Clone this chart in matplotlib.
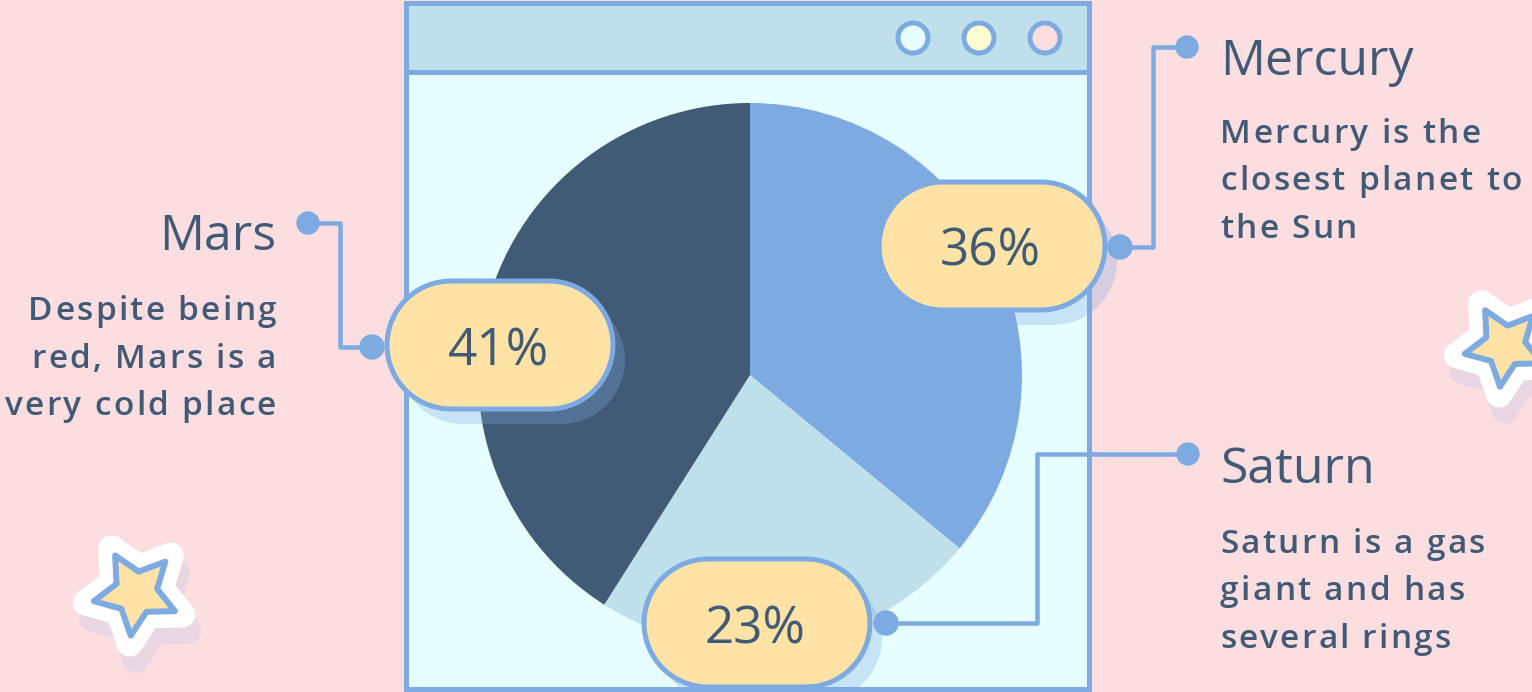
import numpy as np
import matplotlib
matplotlib.use("Agg")
import matplotlib.pyplot as plt
from matplotlib.patches import Rectangle, Circle, Polygon
from matplotlib.font_manager import FontProperties

W, H = 1532, 692

# data
planets = ["Mercury", "Saturn", "Mars"]
shares = [36, 23, 41]
descriptions = {
    "Mercury": "Mercury is the\nclosest planet to\nthe Sun",
    "Saturn": "Saturn is a gas\ngiant and has\nseveral rings",
    "Mars": "Despite being\nred, Mars is a\nvery cold place",
}

BG = "#FDDEE0"
BLUE = "#7DAAE0"
NAVY = "#415A75"
PALE = "#BFE0EA"
CONTENT = "#E6FEFF"
YELLOW = "#FFE3A6"
slice_colors = [BLUE, PALE, NAVY]
FONT = "Open Sans"


def Y(p):
    # pixel row (from top) -> data y
    return H - p


def px(n):
    # pixels -> points
    return n * 72 / 100


fig = plt.figure(figsize=(W / 100, H / 100), dpi=100)
fig.patch.set_facecolor(BG)
ax = fig.add_axes([0, 0, 1, 1])
renderer = fig.canvas.get_renderer()


def text_w(s, prop):
    return renderer.get_text_width_height_descent(s, prop, ismath=False)[0]


def spaced_text(x, y, s, prop, ha="left", tracking=2.3, **kw):
    # text with extra letter spacing (pixels), drawn char by char
    ref = text_w("l", prop)
    offsets = [text_w(s[:i] + "l", prop) - ref for i in range(len(s))]
    total = text_w(s, prop) + tracking * (len(s) - 1)
    x0 = x - total if ha == "right" else x
    for i, ch in enumerate(s):
        if ch == " ":
            continue
        ax.text(x0 + offsets[i] + tracking * i, y, ch, ha="left",
                va="baseline", fontproperties=prop, **kw)


def star_points(cx, cy, R, rot=29):
    pts = []
    for k in range(10):
        r = R if k % 2 == 0 else R * 0.5
        a = np.radians(90 + rot + k * 36)
        pts.append((cx + r * np.cos(a), cy + r * np.sin(a)))
    return pts


def pill_points(cx, cy, w, h):
    r = h / 2
    t1 = np.linspace(-np.pi / 2, np.pi / 2, 40)
    t2 = np.linspace(np.pi / 2, 3 * np.pi / 2, 40)
    right = np.column_stack([cx + w / 2 - r + r * np.cos(t1), cy + r * np.sin(t1)])
    left = np.column_stack([cx - w / 2 + r + r * np.cos(t2), cy + r * np.sin(t2)])
    return np.vstack([right, left])


def draw_star(cx, cy, R):
    cy = Y(cy)
    shadow = Polygon(star_points(cx + 6, cy - 16, R + 8), closed=True,
                     facecolor="#E8D6E2", edgecolor="#E8D6E2",
                     lw=px(26), joinstyle="round", zorder=1)
    white = Polygon(star_points(cx, cy, R + 8), closed=True,
                    facecolor="white", edgecolor="white",
                    lw=px(26), joinstyle="round", zorder=2)
    body = Polygon(star_points(cx, cy, R), closed=True,
                   facecolor=YELLOW, edgecolor=BLUE,
                   lw=px(6), joinstyle="round", zorder=3)
    for p in (shadow, white, body):
        ax.add_patch(p)


draw_star(136, 593, 43)
draw_star(1505, 346, 41)

# browser window
ax.add_patch(Rectangle((406, Y(689)), 683, 686, facecolor=CONTENT,
                       edgecolor="none", zorder=4))
ax.add_patch(Rectangle((406, Y(72)), 683, 69, facecolor=PALE,
                       edgecolor="none", zorder=4))

ax.pie(shares, colors=slice_colors, startangle=90, counterclock=False,
       center=(750, Y(375)), radius=272, frame=True,
       wedgeprops=dict(linewidth=0, zorder=5))

ax.add_patch(Rectangle((406, Y(689)), 683, 686, facecolor="none",
                       edgecolor=BLUE, lw=px(5), zorder=6))
ax.plot([406, 1089], [Y(72), Y(72)], color=BLUE, lw=px(5), zorder=6)
for x, c in zip([913, 979, 1045], [CONTENT, "#FFFDD0", BG]):
    ax.add_patch(Circle((x, Y(38)), 15, facecolor=c, edgecolor=BLUE,
                        lw=px(5), zorder=7))

# connectors
lines = {
    "Mars": [(308, 223), (340, 223), (340, 347), (372, 347)],
    "Mercury": [(1187, 47), (1153, 47), (1153, 247), (1120, 247)],
    "Saturn": [(1188, 454), (1037, 454), (1037, 623), (886, 623)],
}
for name, pts in lines.items():
    xs = [p[0] for p in pts]
    ys = [Y(p[1]) for p in pts]
    ax.plot(xs, ys, color=BLUE, lw=px(4.5), solid_joinstyle="round",
            solid_capstyle="round", zorder=8)
    ax.add_patch(Circle((xs[0], ys[0]), 11, color=BLUE, zorder=8))

# pills with percentages
pills = {
    "Mars": (500, 345),
    "Mercury": (992, 246),
    "Saturn": (757, 623),
}
pw, ph = 226, 128
for name, val in zip(planets, shares):
    cx, cy = pills[name]
    ax.add_patch(Polygon(pill_points(cx + 12, Y(cy) - 15, pw, ph), closed=True,
                         facecolor=BLUE, alpha=0.3, edgecolor="none", zorder=9))
    ax.add_patch(Polygon(pill_points(cx, Y(cy), pw, ph), closed=True,
                         facecolor=YELLOW, edgecolor=BLUE, lw=px(5), zorder=10))
    ax.text(cx - 2, Y(cy + 20), f"{val}%", ha="center", va="baseline",
            fontsize=37, color=NAVY, family=FONT, zorder=11)

for name in ["Mercury", "Saturn", "Mars"]:
    pts = lines[name]
    ax.add_patch(Circle((pts[-1][0], Y(pts[-1][1])), 12, color=BLUE, zorder=12))

# bottom frame edge over the lower pill
ax.plot([406, 1089], [Y(689), Y(689)], color=BLUE, lw=px(5), zorder=13)

# labels: x, heading baseline, first body baseline, alignment
labels = {
    "Mars": (276, 250, 320, "right"),
    "Mercury": (1220, 75, 143, "left"),
    "Saturn": (1220, 483, 553, "left"),
}
body_prop = FontProperties(family=FONT, weight="semibold", size=24)
for name, (x, ty, by, ha) in labels.items():
    ax.text(x, Y(ty), name, ha=ha, va="baseline", fontsize=36, color=NAVY,
            family=FONT, zorder=11)
    for i, line in enumerate(descriptions[name].split("\n")):
        spaced_text(x, Y(by + i * 47.5), line, body_prop, ha=ha,
                    color=NAVY, zorder=11)

ax.set_xlim(0, W)
ax.set_ylim(0, H)
ax.set_aspect("equal")
ax.axis("off")

fig.savefig("out.png", dpi=100, facecolor=BG)
